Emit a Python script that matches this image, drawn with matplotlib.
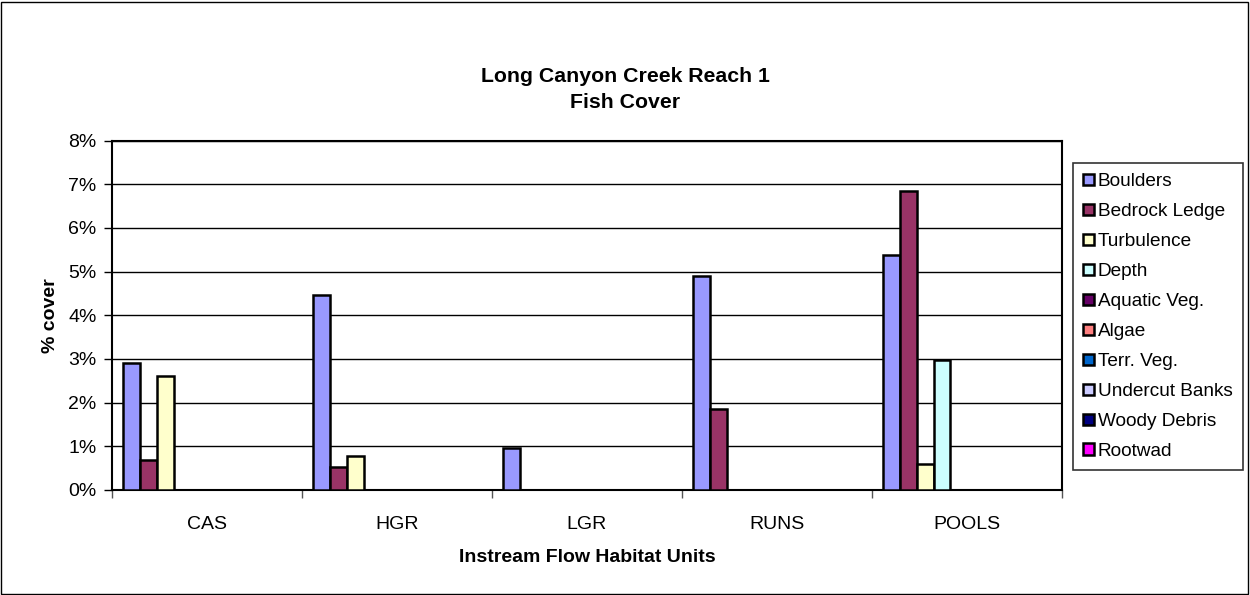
import numpy as np
import matplotlib
matplotlib.use("Agg")
import matplotlib.pyplot as plt
from matplotlib.patches import Rectangle

plt.rcParams['font.family'] = ['Liberation Sans', 'DejaVu Sans']

# data (percent cover)
units = ["CAS", "HGR", "LGR", "RUNS", "POOLS"]
cover_types = ["Boulders", "Bedrock Ledge", "Turbulence", "Depth", "Aquatic Veg.",
               "Algae", "Terr. Veg.", "Undercut Banks", "Woody Debris", "Rootwad"]
boulders = [2.91, 4.47, 0.96, 4.89, 5.37]
bedrock = [0.68, 0.53, 0.0, 1.86, 6.85]
turbulence = [2.60, 0.78, 0.0, 0.0, 0.59]
depth = [0.0, 0.0, 0.0, 0.0, 2.97]
aquatic_veg = [0, 0, 0, 0, 0]
algae = [0, 0, 0, 0, 0]
terr_veg = [0, 0, 0, 0, 0]
undercut = [0, 0, 0, 0, 0]
woody = [0, 0, 0, 0, 0]
rootwad = [0, 0, 0, 0, 0]

series = [boulders, bedrock, turbulence, depth, aquatic_veg,
          algae, terr_veg, undercut, woody, rootwad]
colors = ["#9999FF", "#993366", "#FFFFCC", "#CCFFFF", "#660066",
          "#FF8080", "#0066CC", "#CCCCFF", "#000080", "#FF00FF"]

fig = plt.figure(figsize=(12.5, 5.95), dpi=100)
ax = fig.add_axes([112 / 1250, 1 - 490 / 595, 950 / 1250, 349.5 / 595])

x = np.arange(len(units))
w = 0.088
n = len(series)
for i, (vals, c, name) in enumerate(zip(series, colors, cover_types)):
    off = (i - (n - 1) / 2) * w
    hs = np.array(vals, dtype=float)
    ax.bar(x + off, hs, w, color=c, edgecolor="black", linewidth=1.8,
           label=name, zorder=3)

ax.set_xlim(-0.5, len(units) - 0.5)
ax.set_ylim(0, 8)
ax.set_yticks(range(0, 9))
ax.set_yticklabels([f"{v}%" for v in range(0, 9)])
ax.yaxis.grid(True, color="black", linewidth=1.0, zorder=0)
ax.set_axisbelow(True)

ax.set_xticks(x)
ax.set_xticklabels(units)
ax.tick_params(axis="x", length=0, pad=19, labelsize=14)
ax.set_xticks(np.arange(-0.5, len(units) + 0.5, 1), minor=True)
ax.tick_params(axis="x", which="minor", length=6, width=1, color="#555555")
ax.tick_params(axis="y", length=6, width=1, labelsize=14, pad=5)

for s in ax.spines.values():
    s.set_linewidth(1.5)
    s.set_color("black")

ax.set_ylabel("% cover", fontsize=14, fontweight="bold", labelpad=7)
ax.set_xlabel("Instream Flow Habitat Units", fontsize=14, fontweight="bold", labelpad=11)

fig.text(0.5, 1 - 77 / 595, "Long Canyon Creek Reach 1", ha="center", va="center",
         fontsize=15.3, fontweight="bold")
fig.text(0.5, 1 - 102 / 595, "Fish Cover", ha="center", va="center",
         fontsize=15.3, fontweight="bold")

leg = ax.legend(loc="upper left", bbox_to_anchor=(1073 / 1250, 1 - 163 / 595),
                bbox_transform=fig.transFigure, borderaxespad=0, fontsize=13.7,
                handlelength=0.55, handleheight=0.55, handletextpad=0.2,
                labelspacing=0.68, borderpad=0.55, fancybox=False, frameon=True)
leg.get_frame().set_edgecolor("black")
leg.get_frame().set_linewidth(1.2)
for h in leg.legend_handles:
    h.set_linewidth(1.8)

fig.patches.append(Rectangle((1 / 1250, 1 / 595), 1247 / 1250, 592 / 595,
                             transform=fig.transFigure, fill=False,
                             edgecolor="black", linewidth=1.0))

fig.savefig("out.png", dpi=100, facecolor="white")
